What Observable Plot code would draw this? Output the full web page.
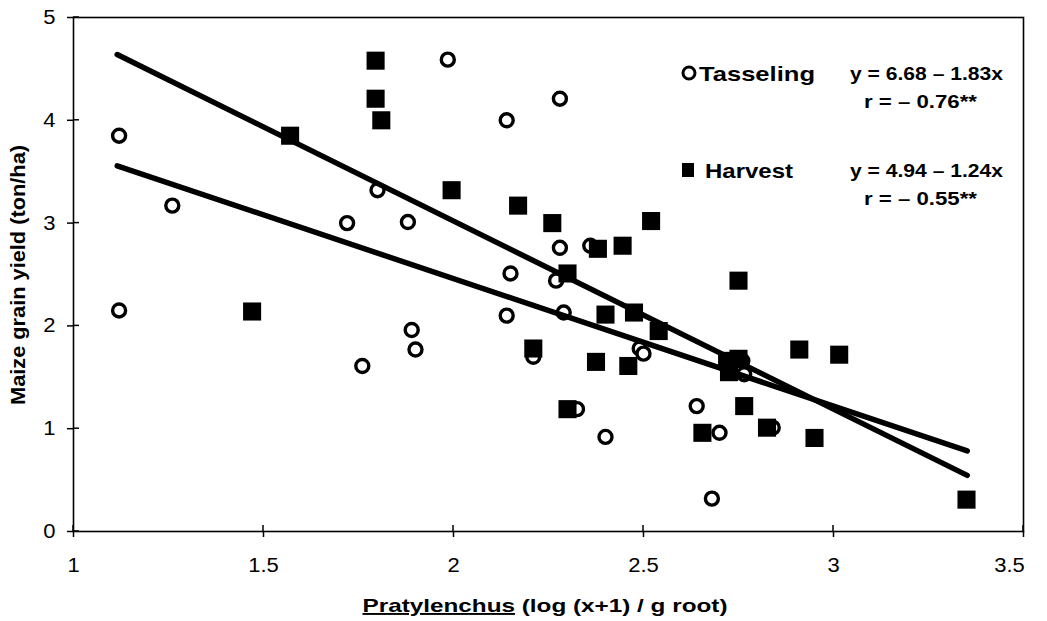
<!DOCTYPE html>
<html>
<head>
<meta charset="utf-8">
<script src="https://cdn.jsdelivr.net/npm/d3@7"></script>
<script src="https://cdn.jsdelivr.net/npm/@observablehq/plot@0.6"></script>
<style>
  html, body { margin: 0; padding: 0; background: #fff; }
  #chart { width: 1047px; height: 621px; }
</style>
</head>
<body>
<div id="chart"></div>
<script>
// ---- Data ----
const tasselX = [1.12, 1.12, 1.26, 1.72, 1.80, 1.76, 1.88, 1.89, 1.90, 1.985, 2.14, 2.28, 2.14, 2.15, 2.27, 2.28, 2.36, 2.29, 2.21, 2.325, 2.40, 2.49, 2.50, 2.64, 2.70, 2.68, 2.76, 2.765, 2.84];
const tasselY = [3.85, 2.15, 3.17, 3.00, 3.32, 1.61, 3.01, 1.96, 1.77, 4.59, 4.00, 4.21, 2.10, 2.51, 2.44, 2.76, 2.78, 2.13, 1.70, 1.19, 0.92, 1.78, 1.73, 1.22, 0.96, 0.32, 1.66, 1.53, 1.01];

const harvestX = [1.47, 1.57, 1.795, 1.795, 1.81, 1.995, 2.17, 2.26, 2.52, 2.38, 2.445, 2.30, 2.75, 2.21, 2.40, 2.475, 2.54, 2.375, 2.46, 2.72, 2.725, 2.75, 2.30, 2.655, 2.765, 2.825, 2.91, 3.015, 2.95, 3.35];
const harvestY = [2.14, 3.85, 4.58, 4.21, 4.00, 3.32, 3.17, 3.00, 3.02, 2.75, 2.78, 2.51, 2.44, 1.78, 2.11, 2.13, 1.95, 1.65, 1.61, 1.66, 1.55, 1.68, 1.19, 0.96, 1.22, 1.01, 1.77, 1.72, 0.91, 0.31];

// Regression lines as printed on the chart
const lineNames = ["fit1", "fit2"];
const lineIntercepts = [6.68, 4.94];
const lineSlopes = [-1.83, -1.24];
const lineXExtent = [1.115, 3.352];

const legendNames = ["Tasseling", "Harvest"];
const legendEquations = ["y = 6.68 – 1.83x", "y = 4.94 – 1.24x"];
const legendR = ["r = – 0.76**", "r = – 0.55**"];

const xTicks = [1, 1.5, 2, 2.5, 3, 3.5];
const yTicks = [0, 1, 2, 3, 4, 5];

// ---- Build tables ----
const tassel = tasselX.map((x, i) => ({x, y: tasselY[i]}));
const harvest = harvestX.map((x, i) => ({x, y: harvestY[i]}));
const lines = [];
lineNames.forEach((name, i) => {
  lineXExtent.forEach(x => lines.push({name, x, y: lineIntercepts[i] + lineSlopes[i] * x}));
});

const FONT = "'Liberation Sans', Arial, sans-serif";

const plot = Plot.plot({
  width: 1047,
  height: 621,
  marginTop: 17,
  marginRight: 24,
  marginBottom: 90,
  marginLeft: 73,
  style: {fontFamily: FONT, color: "#000", background: "#fff"},
  x: {domain: [1, 3.5], label: null},
  y: {domain: [0, 5], label: null},
  marks: [
    Plot.frame({stroke: "#000", strokeWidth: 1.6}),
    Plot.axisX({ticks: xTicks, tickSize: 6, tickPadding: 20, fontSize: 20, tickFormat: d => String(d), strokeWidth: 1.5}),
    Plot.axisY({ticks: yTicks, tickSize: 6, tickPadding: 12, fontSize: 20, tickFormat: d => String(d), strokeWidth: 1.5}),
    Plot.dot(tassel, {x: "x", y: "y", r: 6.5, stroke: "#000", strokeWidth: 3.4, fill: "#fff"}),
    Plot.dot(harvest, {x: "x", y: "y", symbol: "square", r: 10.2, fill: "#000", stroke: "none"}),
    Plot.line(lines, {x: "x", y: "y", z: "name", stroke: "#000", strokeWidth: 5.5, strokeLinecap: "round"})
  ]
});

document.getElementById("chart").appendChild(plot);
const svg = d3.select(plot);

// Stretch tick labels slightly (reference glyphs are wide)
svg.selectAll("g[aria-label='x-axis tick label'] text, g[aria-label='y-axis tick label'] text").each(function() {
  const w = this.getComputedTextLength();
  d3.select(this).attr("textLength", w * 1.1).attr("lengthAdjust", "spacingAndGlyphs");
});
// Last x label is nudged left as in the reference
const xl = svg.selectAll("g[aria-label='x-axis tick label'] text").nodes();
if (xl.length) d3.select(xl[xl.length - 1]).attr("dx", -14);

// Inward tick halves
const xs = d3.scaleLinear().domain([1, 3.5]).range([73, 1023]);
const ys = d3.scaleLinear().domain([0, 5]).range([531, 17]);
const g = svg.append("g").attr("stroke", "#000").attr("stroke-width", 1.5);
xTicks.forEach(t => g.append("line").attr("x1", xs(t)).attr("x2", xs(t)).attr("y1", 531).attr("y2", 525));
yTicks.forEach(t => g.append("line").attr("y1", ys(t)).attr("y2", ys(t)).attr("x1", 73).attr("x2", 79));

// Axis titles
const xt = svg.append("text")
  .attr("x", 545).attr("y", 612)
  .attr("text-anchor", "middle")
  .attr("font-family", FONT).attr("font-weight", "bold").attr("font-size", 19)
  .attr("textLength", 365).attr("lengthAdjust", "spacingAndGlyphs");
xt.append("tspan").attr("text-decoration", "underline").style("text-decoration", "underline").text("Pratylenchus");
xt.append("tspan").text(" (log (x+1) / g root)");

svg.append("text")
  .attr("transform", "translate(25,275) rotate(-90)")
  .attr("text-anchor", "middle")
  .attr("font-family", FONT).attr("font-weight", "bold").attr("font-size", 20)
  .attr("textLength", 260).attr("lengthAdjust", "spacingAndGlyphs")
  .text("Maize grain yield (ton/ha)");

// Legend
const leg = svg.append("g").attr("font-family", FONT).attr("font-weight", "bold").attr("fill", "#000").attr("text-anchor", "start");
const rowY = [73, 170];
legendNames.forEach((name, i) => {
  const cy = rowY[i];
  if (i === 0) {
    leg.append("circle").attr("cx", 689).attr("cy", cy).attr("r", 6).attr("fill", "#fff").attr("stroke", "#000").attr("stroke-width", 3);
  } else {
    leg.append("rect").attr("x", 682).attr("y", cy - 7).attr("width", 12).attr("height", 14).attr("fill", "#000");
  }
  leg.append("text").attr("text-anchor", "start").attr("x", 699 + (i ? 6 : 0)).attr("y", cy + 8).attr("font-size", 21)
    .attr("textLength", i ? 88 : 116).attr("lengthAdjust", "spacingAndGlyphs").text(name);
  leg.append("text").attr("text-anchor", "start").attr("x", 850).attr("y", cy + 7).attr("font-size", 18)
    .attr("textLength", 153).attr("lengthAdjust", "spacingAndGlyphs").text(legendEquations[i]);
  leg.append("text").attr("text-anchor", "start").attr("x", 864).attr("y", cy + 35).attr("font-size", 18)
    .attr("textLength", 113).attr("lengthAdjust", "spacingAndGlyphs").text(legendR[i]);
});
</script>
</body>
</html>
